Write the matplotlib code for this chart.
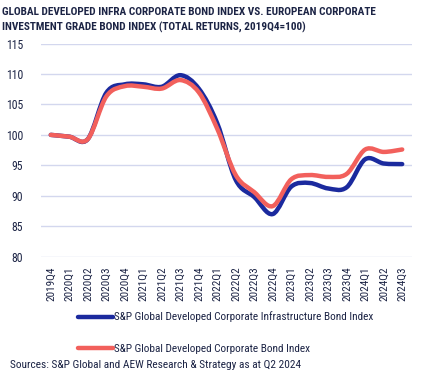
import numpy as np
import matplotlib
matplotlib.use("Agg")
import matplotlib.pyplot as plt
from matplotlib.path import Path
from matplotlib.patches import PathPatch
from matplotlib.lines import Line2D

quarters = ["2019Q4", "2020Q1", "2020Q2", "2020Q3", "2020Q4", "2021Q1", "2021Q2",
            "2021Q3", "2021Q4", "2022Q1", "2022Q2", "2022Q3", "2022Q4", "2023Q1",
            "2023Q2", "2023Q3", "2023Q4", "2024Q1", "2024Q2", "2024Q3"]
infra = [100.0, 99.7, 99.3, 106.9, 108.3, 108.3, 107.9, 109.8, 107.6, 101.9,
         92.6, 89.8, 87.0, 91.5, 92.1, 91.2, 91.4, 96.0, 95.3, 95.2]
corp = [100.0, 99.7, 99.3, 106.3, 108.0, 107.9, 107.6, 109.0, 107.0, 101.0,
        93.4, 90.6, 88.3, 92.7, 93.4, 93.1, 93.6, 97.6, 97.2, 97.6]

infra_name = "S&P Global Developed Corporate Infrastructure Bond Index"
corp_name = "S&P Global Developed Corporate Bond Index"

BLUE = "#1b2a9e"
RED = "#f2605c"
NAVY = "#1c2445"
GRID = "#d3d7ee"
plt.rcParams["font.family"] = ["Roboto Condensed", "DejaVu Sans"]


def smooth_path(x, y):
    # catmull-rom style bezier through the points (like excel "smoothed line")
    x = np.asarray(x, float)
    y = np.asarray(y, float)
    verts = [(x[0], y[0])]
    codes = [Path.MOVETO]
    n = len(x)
    for i in range(n - 1):
        p0 = (x[i - 1], y[i - 1]) if i > 0 else (x[i], y[i])
        p1 = (x[i], y[i])
        p2 = (x[i + 1], y[i + 1])
        p3 = (x[i + 2], y[i + 2]) if i + 2 < n else (x[i + 1], y[i + 1])
        c1 = (p1[0] + (p2[0] - p0[0]) / 6, p1[1] + (p2[1] - p0[1]) / 6)
        c2 = (p2[0] - (p3[0] - p1[0]) / 6, p2[1] - (p3[1] - p1[1]) / 6)
        verts += [c1, c2, p2]
        codes += [Path.CURVE4] * 3
    return Path(verts, codes)


fig = plt.figure(figsize=(4.22, 3.75), dpi=100)
ax = fig.add_axes([41 / 422, 1 - 256.7 / 375, 371 / 422, 213.2 / 375])

idx = np.arange(len(quarters))
for vals, col in [(infra, BLUE), (corp, RED)]:
    ax.add_patch(PathPatch(smooth_path(idx, vals), facecolor="none", edgecolor=col,
                           lw=3.2, capstyle="round", joinstyle="round"))

ax.set_xlim(-0.53, len(quarters) - 1 + 0.53)
ax.set_ylim(80, 115)
ax.set_yticks(np.arange(80, 116, 5))
ax.set_xticks(idx)
ax.set_xticklabels(quarters, rotation=90, fontsize=8, color=NAVY)
for lab in ax.get_yticklabels():
    lab.set_fontsize(8.5)
    lab.set_color(NAVY)
ax.tick_params(length=0, pad=7)
ax.tick_params(axis="y", pad=13)
ax.grid(axis="y", color=GRID, lw=1)
ax.set_axisbelow(True)
for s in ax.spines.values():
    s.set_visible(False)

fig.text(2 / 422, 1 - 20 / 375,
         "GLOBAL DEVELOPED INFRA CORPORATE BOND INDEX VS. EUROPEAN CORPORATE\n"
         "INVESTMENT GRADE BOND INDEX (TOTAL RETURNS, 2019Q4=100)",
         fontsize=8.1, fontweight="bold", color=NAVY,
         va="center", ha="left", linespacing=1.55)

handles = [Line2D([], [], color=BLUE, lw=3.2, solid_capstyle="round"),
           Line2D([], [], color=RED, lw=3.2, solid_capstyle="round")]
leg = fig.legend(handles, [infra_name, corp_name], loc="center left",
                 bbox_to_anchor=(68 / 422, 1 - 333 / 375), frameon=False,
                 prop={"size": 8.1}, handlelength=3.1,
                 handletextpad=0.1, labelspacing=1.95)
for t in leg.get_texts():
    t.set_color(NAVY)

fig.text(10 / 422, 1 - 365 / 375,
         "Sources: S&P Global and AEW Research & Strategy as at Q2 2024",
         fontsize=8.2, color=NAVY, va="center", ha="left")

fig.savefig("out.png", dpi=100)
